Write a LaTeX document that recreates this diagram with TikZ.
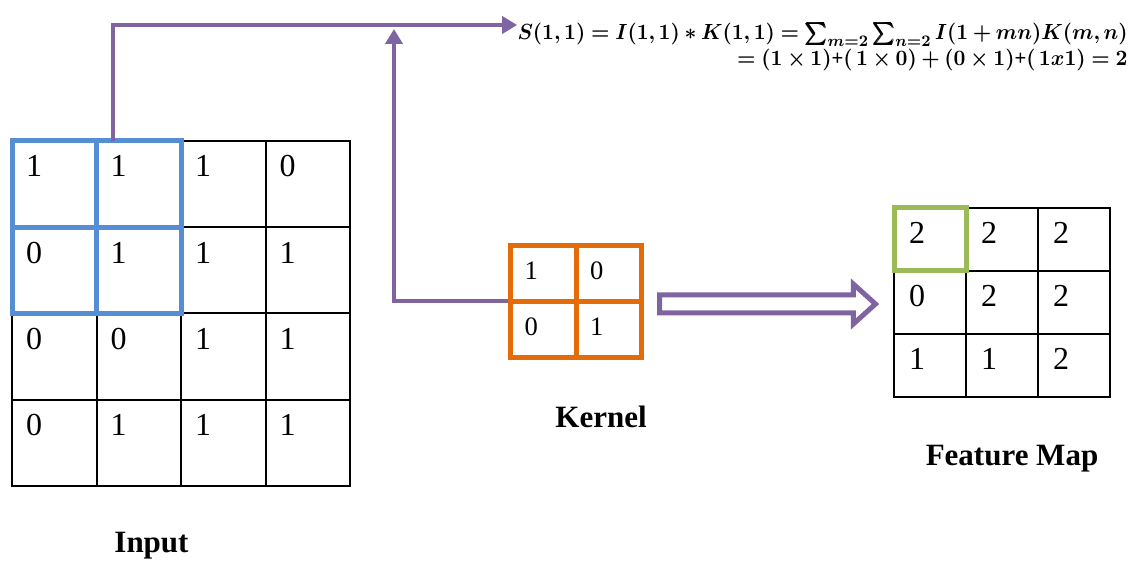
\documentclass[tikz,border=0pt]{standalone}
\usepackage{amsmath}
\usepackage{bm}
\usepackage{graphicx}
\usepackage{fontspec}
\setmainfont{Liberation Serif}
\usetikzlibrary{matrix,positioning,calc,arrows.meta,shapes.arrows}

\definecolor{flowpurple}{HTML}{8064A2}
\definecolor{slideblue}{HTML}{558ED5}
\definecolor{kernelorange}{HTML}{E36C09}
\definecolor{outgreen}{HTML}{9BBB59}

\tikzset{
  cell/.style={draw, outer sep=0pt, align=left, anchor=center},
  flow/.style={draw=flowpurple, line width=2pt, -{Triangle[length=7.5pt,width=8.5pt]}},
  caption/.style={font=\fontsize{15.5}{18}\selectfont\bfseries, inner sep=0pt, text height=11pt, text depth=3.5pt},
  eq/.style={inner sep=0pt, font=\fontsize{10.95}{12}\selectfont}
}

\begin{document}
\begin{tikzpicture}[x=0.5pt, y=0.5pt]
  \useasboundingbox (0,0) rectangle (1144,561);

  % input image
  \matrix (input) [matrix of nodes, anchor=north west, inner sep=0pt, outer sep=0pt,
    column sep=-1pt, row sep=-1pt,
    nodes={cell, line width=1pt, minimum width=42.25pt, minimum height=43.1pt,
      text width=28.25pt, inner xsep=7pt, inner ysep=7pt, text height=11pt,
      text depth=18.1pt, font=\fontsize{16}{16}\selectfont}] at (11,421) {
    1 & 1 & 1 & 0 \\
    0 & 1 & 1 & 1 \\
    0 & 0 & 1 & 1 \\
    0 & 1 & 1 & 1 \\
  };
  \foreach \r in {1,2}
    \foreach \c in {1,2}
      \draw[slideblue, line width=2.5pt] (input-\r-\c.north west) rectangle (input-\r-\c.south east);

  % kernel
  \matrix (kernel) [matrix of nodes, anchor=north west, inner sep=0pt, outer sep=0pt,
    column sep=-2.5pt, row sep=-2.5pt,
    nodes={cell, draw=kernelorange, line width=2.5pt, minimum width=32.75pt, minimum height=28pt,
      text width=18.75pt, inner xsep=7pt, inner ysep=8.25pt, text height=9pt,
      text depth=2.5pt, font=\fontsize{13.3}{13.3}\selectfont}] at (508,318) {
    1 & 0 \\
    0 & 1 \\
  };

  % feature map
  \matrix (fmap) [matrix of nodes, anchor=north west, inner sep=0pt, outer sep=0pt,
    column sep=-1pt, row sep=-1pt,
    nodes={cell, line width=1pt, minimum width=36pt, minimum height=31.5pt,
      text width=21pt, inner xsep=7.5pt, inner ysep=7pt, text height=11pt,
      text depth=6.5pt, font=\fontsize{16}{16}\selectfont}] at (893,354) {
    2 & 2 & 2 \\
    0 & 2 & 2 \\
    1 & 1 & 2 \\
  };
  \draw[outgreen, line width=2.5pt] (fmap-1-1.north west) rectangle (fmap-1-1.south east);

  \node[single arrow, draw=flowpurple, line width=2.5pt, fill=white, inner sep=0pt,
    minimum height=108pt, text height=6.5pt, text depth=0pt,
    single arrow head extend=5.5pt, single arrow tip angle=84] (conv) at (762.5,257) {};

  \node[caption, below=21.5pt of input, xshift=-14.75pt] (inputlbl) {Input};
  \node[caption, below=22.75pt of kernel, xshift=12.5pt] (kernellbl) {Kernel};
  \node[caption, below=22.5pt of fmap, xshift=5pt] (fmaplbl) {Feature Map};

  % first output value
  \node[eq, anchor=base east] (eqtop) at (1128,521)
    {\scalebox{0.945}[1]{$\bm{S(1,1) = I(1,1) \ast K(1,1) = \sum_{m=2}\sum_{n=2} I(1+mn)K(m,n)}$}};
  \node[eq, anchor=base east] (eqbot) at (1128,495)
    {\scalebox{0.945}[1]{$\bm{= (1\times 1)}$\textbf{+}$\bm{(\,1\times 0) + (0\times 1)}$\textbf{+}$\bm{(\,1x1) = 2}$}};

  \coordinate (tap) at ($(input-1-2.north west)!0.19!(input-1-2.north east)$);
  \coordinate (hit) at (394,532);
  \draw[flow] (tap) |- ([yshift=7.5pt]eqtop.base west);
  \draw[flow] ([xshift=-1.25pt]kernel-1-1.south west) -| (hit);
\end{tikzpicture}
\end{document}
